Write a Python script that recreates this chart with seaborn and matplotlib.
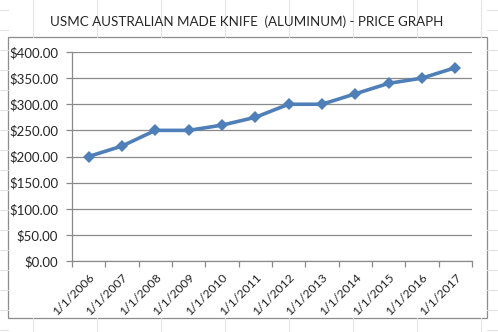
import matplotlib
matplotlib.use("Agg")
import matplotlib.pyplot as plt
import seaborn as sns
import pandas as pd
import numpy as np
from matplotlib.patches import Rectangle
from matplotlib.lines import Line2D

dates = ["1/1/2006", "1/1/2007", "1/1/2008", "1/1/2009", "1/1/2010", "1/1/2011",
         "1/1/2012", "1/1/2013", "1/1/2014", "1/1/2015", "1/1/2016", "1/1/2017"]
prices = [200, 220, 250, 250, 260, 275, 300, 300, 320, 340, 350, 370]
yticks = [0, 50, 100, 150, 200, 250, 300, 350, 400]
title = "USMC AUSTRALIAN MADE KNIFE  (ALUMINUM) - PRICE GRAPH"

sns.set_style("white")
plt.rcParams['font.family'] = ['Lato', 'DejaVu Sans']

W, H = 498, 332
fig = plt.figure(figsize=(W / 100, H / 100), dpi=100)
fig.patch.set_facecolor("white")

# Excel sheet cell grid in background
gc = "#e3e3e3"
for yy in [10, 30, 50, 70, 90, 110, 130, 150, 170, 190, 210, 230, 250, 270, 290, 310, 330]:
    fig.add_artist(Line2D([0, 8 / W], [1 - yy / H, 1 - yy / H], color=gc, lw=0.8))
    fig.add_artist(Line2D([487 / W, 1], [1 - yy / H, 1 - yy / H], color=gc, lw=0.8))
for xx in [33, 97, 161, 225, 289, 353, 417, 481]:
    fig.add_artist(Line2D([xx / W, xx / W], [1 - 37 / H, 1], color=gc, lw=0.8))
    fig.add_artist(Line2D([xx / W, xx / W], [0, 1 - 318 / H], color=gc, lw=0.8))

# chart area box
fig.add_artist(Rectangle((8 / W, 1 - 318 / H), (487 - 8) / W, (318 - 37) / H,
                         transform=fig.transFigure, facecolor="white",
                         edgecolor="#8c8c8c", lw=0.9, zorder=0))

left, right, top, bottom = 72, 472, 52, 261
ax = fig.add_axes([left / W, 1 - bottom / H, (right - left) / W, (bottom - top) / H])
ax.set_facecolor("none")

df = pd.DataFrame({"date": dates, "price": prices, "pos": np.arange(len(dates))})
sns.lineplot(data=df, x="pos", y="price", ax=ax, color="#4f7fb8", lw=2.6,
             marker="D", markersize=6.5, markeredgewidth=0, zorder=3)

ax.set_xlim(-0.5, len(dates) - 0.5)
ax.set_ylim(0, 400)
ax.set_yticks(yticks)
ax.set_yticklabels([f"${v:.2f}" for v in yticks], fontsize=9.5)
ax.yaxis.grid(True, color="#8a8a8a", lw=0.9)
ax.set_axisbelow(True)

ax.set_xticks(np.arange(len(dates)))
ax.set_xticklabels(dates, rotation=45, ha="right", rotation_mode="anchor", fontsize=8.8)
ax.tick_params(axis="x", length=0, pad=8)
ax.set_xticks(np.arange(len(dates) + 1) - 0.5, minor=True)
ax.tick_params(axis="x", which="minor", length=4, color="#8a8a8a", width=0.9, direction="out")
ax.tick_params(axis="y", length=4, color="#8a8a8a", width=0.9, direction="out", pad=6)
ax.xaxis.set_ticks_position("bottom")
ax.yaxis.set_ticks_position("left")

for s in ["top", "right"]:
    ax.spines[s].set_visible(False)
for s in ["left", "bottom"]:
    ax.spines[s].set_color("#8a8a8a")
    ax.spines[s].set_linewidth(0.9)

ax.set_xlabel("")
ax.set_ylabel("")

fig.text(247 / W, 1 - 22 / H, title, ha="center", va="center", fontsize=9.6)

fig.savefig("out.png", dpi=100)
